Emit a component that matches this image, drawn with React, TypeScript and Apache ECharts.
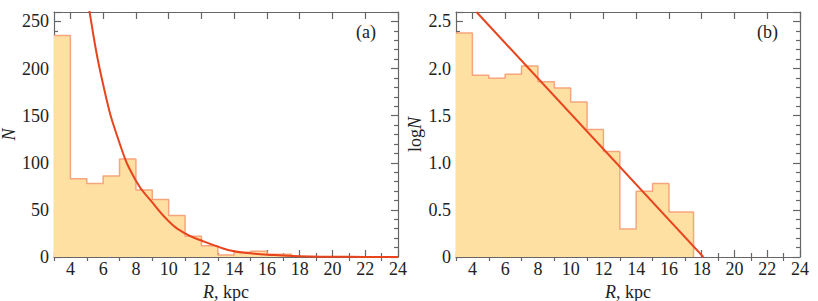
import React, { useEffect, useRef } from "react";
import * as echarts from "echarts";

// Bin edges (kpc)
const binEdges = [3, 4, 5, 6, 7, 8, 9, 10, 11, 12, 13, 14, 15, 16, 17.5];
// Panel (a): counts N per bin
const countsN = [235, 83, 78, 86, 104, 71, 61, 44, 22, 12, 2, 5, 6, 3];
// Panel (b): log N per bin
const logCounts = [2.376, 1.928, 1.896, 1.939, 2.027, 1.861, 1.794, 1.645, 1.352, 1.119, 0.297, 0.699, 0.78, 0.477];
// Panel (a): fitted curve
const fitR = [5.0, 5.18, 6, 7, 8, 9, 10, 11, 12, 13, 14, 15, 16, 18, 20, 22, 24];
const fitN = [285, 259, 183, 121, 81, 58, 38, 25, 17.5, 11, 6, 4, 2.5, 0.8, 0.3, 0.1, 0.02];
// Panel (b): fitted straight line endpoints
const lineR = [4.25, 18.1];
const lineLogN = [2.6, 0];
// Tick labels
const xMajor = [4, 6, 8, 10, 12, 14, 16, 18, 20, 22, 24];
const xMinor = [3, 5, 7, 9, 11, 13, 15, 17, 19, 21, 23];

const FONT = "Times New Roman, Liberation Serif, serif";
const AXIS_COLOR = "#666";
const TEXT_COLOR = "#222";
const FILL = "#FEE0A2";
const EDGE = "#F7A57C";
const CURVE = "#E8441E";

function stepData(vals: number[]) {
  const d: number[][] = [];
  for (let i = 0; i < vals.length; i++) {
    d.push([binEdges[i], vals[i]]);
    d.push([binEdges[i + 1], vals[i]]);
  }
  d.push([binEdges[binEdges.length - 1], 0]);
  return d;
}

function xAxesFor(grid: number) {
  const base = { type: "value", gridIndex: grid, min: 3, max: 24, splitLine: { show: false } };
  return [
    {
      ...base,
      position: "bottom",
      axisLine: { show: true, onZero: false, lineStyle: { color: AXIS_COLOR, width: 1.2 } },
      axisTick: { show: true, inside: true, length: 7, customValues: xMajor, lineStyle: { color: AXIS_COLOR, width: 1.2 } },
      axisLabel: { show: true, customValues: xMajor, margin: 3, fontFamily: FONT, fontSize: 18, color: TEXT_COLOR },
      name: "{i|R}, kpc",
      nameLocation: "middle",
      nameGap: 19,
      nameTextStyle: {
        fontFamily: FONT,
        fontSize: 18,
        color: TEXT_COLOR,
        rich: { i: { fontFamily: FONT, fontSize: 18, fontStyle: "italic", color: TEXT_COLOR } },
      },
    },
    {
      ...base,
      position: "bottom",
      axisLine: { show: false },
      axisTick: { show: true, inside: true, length: 4, customValues: xMinor, lineStyle: { color: AXIS_COLOR, width: 1.2 } },
      axisLabel: { show: false },
    },
    {
      ...base,
      position: "top",
      axisLine: { show: true, onZero: false, lineStyle: { color: AXIS_COLOR, width: 1.2 } },
      axisTick: { show: true, inside: true, length: 7, customValues: xMajor, lineStyle: { color: AXIS_COLOR, width: 1.2 } },
      axisLabel: { show: false },
    },
    {
      ...base,
      position: "top",
      axisLine: { show: false },
      axisTick: { show: true, inside: true, length: 4, customValues: xMinor, lineStyle: { color: AXIS_COLOR, width: 1.2 } },
      axisLabel: { show: false },
    },
  ];
}

function yAxesFor(grid: number, max: number, interval: number, name: string, nameGap: number, fmt: (v: number) => string) {
  const base = {
    type: "value",
    gridIndex: grid,
    min: 0,
    max,
    interval,
    splitLine: { show: false },
    minorSplitLine: { show: false },
    axisLine: { show: true, onZero: false, lineStyle: { color: AXIS_COLOR, width: 1.2 } },
    axisTick: { show: true, inside: true, length: 7, lineStyle: { color: AXIS_COLOR, width: 1.2 } },
    minorTick: { show: true, splitNumber: 5, length: 4, lineStyle: { color: AXIS_COLOR, width: 1.2 } },
  };
  return [
    {
      ...base,
      position: "left",
      axisLabel: {
        show: true,
        margin: 5,
        fontFamily: FONT,
        fontSize: 18,
        color: TEXT_COLOR,
        formatter: fmt,
        showMaxLabel: false,
      },
      name,
      nameLocation: "middle",
      nameGap,
      nameRotate: 90,
      nameTextStyle: {
        fontFamily: FONT,
        fontSize: 18,
        color: TEXT_COLOR,
        rich: { i: { fontFamily: FONT, fontSize: 18, fontStyle: "italic", color: TEXT_COLOR } },
      },
    },
    {
      ...base,
      position: "right",
      axisLabel: { show: false },
    },
  ];
}

export default function App() {
  const ref = useRef<HTMLDivElement>(null);
  useEffect(() => {
    if (!ref.current) return;
    const chart = echarts.init(ref.current, undefined, { renderer: "svg" });
    const curveData = fitR.map((r, i) => [r, fitN[i]]);
    const lineData = lineR.map((r, i) => [r, lineLogN[i]]);
    chart.setOption({
      animation: false,
      backgroundColor: "#fff",
      grid: [
        { left: 54, right: 420, top: 12, bottom: 44, outerBoundsMode: "none", containLabel: false },
        { left: 456, right: 18, top: 12, bottom: 44, outerBoundsMode: "none", containLabel: false },
      ],
      xAxis: [...xAxesFor(0), ...xAxesFor(1)],
      yAxis: [
        ...yAxesFor(0, 260, 50, "{i|N}", 33, (v: number) => String(v)),
        ...yAxesFor(1, 2.6, 0.5, "log{i|N}", 32, (v: number) => (v === 0 ? "0" : v.toFixed(1))),
      ],
      graphic: [
        { type: "text", left: 356, top: 23, style: { text: "(a)", fontFamily: FONT, fontSize: 18, fill: TEXT_COLOR } },
        { type: "text", left: 757, top: 23, style: { text: "(b)", fontFamily: FONT, fontSize: 18, fill: TEXT_COLOR } },
      ],
      series: [
        {
          type: "line",
          xAxisIndex: 0,
          yAxisIndex: 0,
          data: stepData(countsN),
          symbol: "none",
          lineStyle: { color: EDGE, width: 1.5 },
          areaStyle: { color: FILL, opacity: 1 },
          z: 2,
        },
        {
          type: "line",
          xAxisIndex: 0,
          yAxisIndex: 0,
          data: curveData,
          smooth: true,
          symbol: "none",
          lineStyle: { color: CURVE, width: 2 },
          z: 3,
        },
        {
          type: "line",
          xAxisIndex: 4,
          yAxisIndex: 2,
          data: stepData(logCounts),
          symbol: "none",
          lineStyle: { color: EDGE, width: 1.5 },
          areaStyle: { color: FILL, opacity: 1 },
          z: 2,
        },
        {
          type: "line",
          xAxisIndex: 4,
          yAxisIndex: 2,
          data: lineData,
          symbol: "none",
          lineStyle: { color: CURVE, width: 2 },
          z: 3,
        },
      ],
    });
    return () => chart.dispose();
  }, []);
  return <div ref={ref} style={{ position: "fixed", left: 0, top: 0, width: 818, height: 301 }} />;
}
